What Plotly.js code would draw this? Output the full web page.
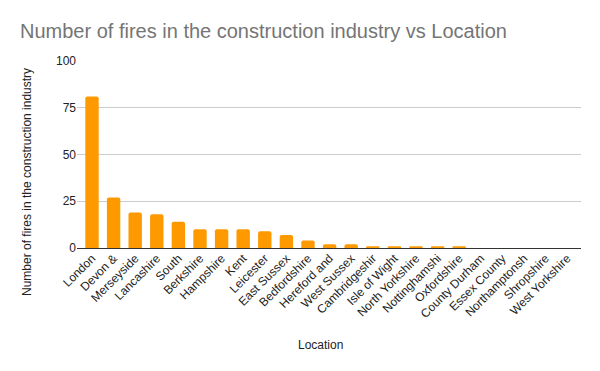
<!DOCTYPE html>
<html>
<head>
<meta charset="utf-8">
<script src="https://cdn.plot.ly/plotly-3.0.1.min.js"></script>
<style>html,body{margin:0;padding:0;background:#fff;}#chart{width:600px;height:371px;}</style>
</head>
<body>
<div id="chart"></div>
<script>
const locations = ["London","Devon &","Merseyside","Lancashire","South","Berkshire","Hampshire","Kent","Leicester","East Sussex","Bedfordshire","Hereford and","West Sussex","Cambridgeshir","Isle of Wight","North Yorkshire","Nottinghamshi","Oxfordshire","County Durham","Essex County","Northamptonsh","Shropshire","West Yorkshire"];
const fires = [81,27,19,18,14,10,10,10,9,7,4,2,2,1,1,1,1,1,0,0,0,0,0];
const yTicks = [0,25,50,75,100];

const trace = {
  type: 'bar',
  x: locations.map((_, i) => i),
  y: fires,
  width: 0.62,
  marker: {color: '#ff9900'},
  hoverinfo: 'x+y'
};

const layout = {
  width: 600, height: 371,
  margin: {l: 77, r: 19, t: 61, b: 123, pad: 0},
  paper_bgcolor: '#fff', plot_bgcolor: '#fff',
  font: {family: '"Liberation Sans", Arial, sans-serif', size: 12, color: '#222'},
  barcornerradius: 2,
  showlegend: false,
  title: {
    text: 'Number of fires in the construction industry vs Location',
    font: {size: 20, color: '#757575'},
    x: 20/600, xref: 'container', xanchor: 'left',
    y: 1 - 31/371, yref: 'container', yanchor: 'middle'
  },
  xaxis: {
    range: [-0.694, 22.64],
    tickmode: 'array',
    tickvals: locations.map((_, i) => i),
    ticktext: locations,
    tickangle: -45,
    ticks: '', showgrid: false, zeroline: false,
    showline: false,
    tickfont: {size: 12, color: '#222'},
    fixedrange: true
  },
  yaxis: {
    range: [0, 100],
    tickmode: 'array',
    tickvals: yTicks,
    ticktext: yTicks.map(String),
    showgrid: true, gridcolor: '#cccccc', gridwidth: 1,
    zeroline: true, zerolinecolor: '#333333', zerolinewidth: 1,
    ticks: '', ticklen: 0,
    tickfont: {size: 12, color: '#222'},
    fixedrange: true
  },
  annotations: [
    {
      text: 'Number of fires in the construction industry',
      textangle: -90,
      xref: 'paper', yref: 'paper',
      x: (27 - 77) / 504, y: (371 - 182 - 123) / 187,
      xanchor: 'center', yanchor: 'middle',
      showarrow: false,
      font: {size: 12, color: '#222'}
    },
    {
      text: 'Location',
      xref: 'paper', yref: 'paper',
      x: (320 - 77) / 504, y: (371 - 345 - 123) / 187,
      xanchor: 'center', yanchor: 'middle',
      showarrow: false,
      font: {size: 12, color: '#222'}
    }
  ]
};

Plotly.newPlot('chart', [trace], layout, {displayModeBar: false, staticPlot: true});
</script>
</body>
</html>
